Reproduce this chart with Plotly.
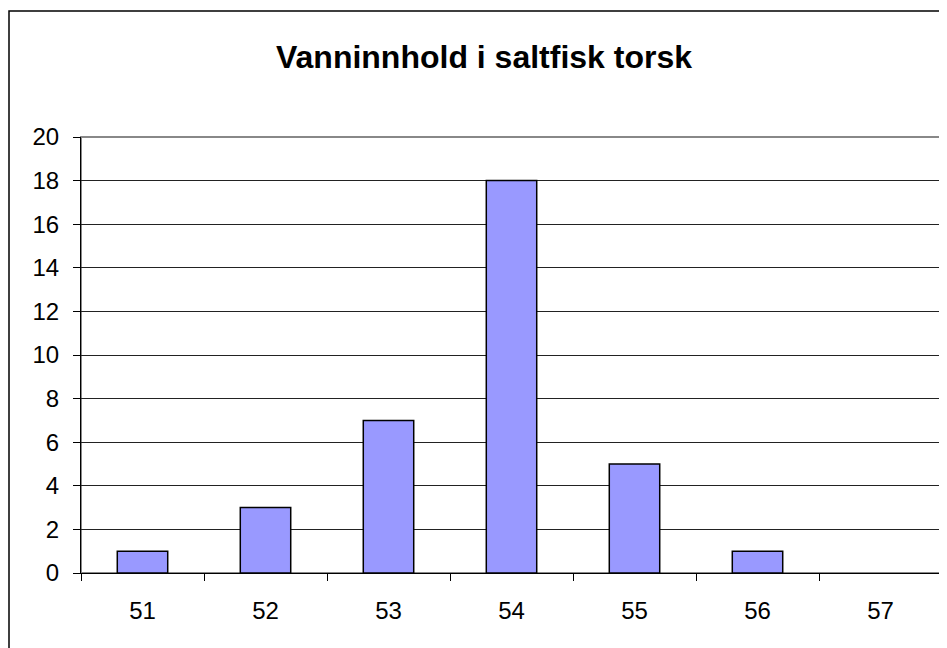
import plotly.graph_objects as go

# data
categories = ['51', '52', '53', '54', '55', '56', '57']
counts = [1, 3, 7, 18, 5, 1, 0]
y_ticks = [0, 2, 4, 6, 8, 10, 12, 14, 16, 18, 20]

# page body has an 8px margin, so the figure is laid out in shifted coords
W, H = 939, 640
L, R, T, B = 73, 5, 129, 75
pw, ph = W - L - R, H - T - B

fig = go.Figure()
fig.add_trace(go.Bar(x=categories, y=counts,
                     marker=dict(color='#9999FF',
                                 line=dict(color='black', width=[1.5 if v else 0 for v in counts])),
                     showlegend=False))

fig.update_layout(
    width=W, height=H,
    margin=dict(l=L, r=R, t=T, b=B, pad=0),
    paper_bgcolor='white', plot_bgcolor='white',
    font=dict(family='Arial, Liberation Sans, sans-serif', color='black', size=24),
    bargap=0.59,
    title=dict(text='<b>Vanninnhold i saltfisk torsk</b>', font=dict(size=32),
               x=(476 - L) / pw, xref='paper', xanchor='center',
               y=1 - 49 / H, yref='container', yanchor='middle'),
)

fig.update_xaxes(type='category', tickson='boundaries', ticks='outside', ticklen=7,
                 tickcolor='black', showline=True, linecolor='black', linewidth=1,
                 showgrid=False, ticklabelstandoff=16, fixedrange=True)
fig.update_yaxes(range=[0, 20], tickvals=y_ticks, ticks='outside', ticklen=7,
                 tickcolor='black', showline=True, linecolor='black', linewidth=1,
                 showgrid=True, gridcolor='#222222', gridwidth=1, zeroline=False,
                 ticklabelstandoff=9, fixedrange=True)

# plot area border (gray, top/right) and outer chart border
fig.add_shape(type='rect', xref='paper', yref='paper', x0=0, x1=1, y0=0, y1=1,
              line=dict(color='#888888', width=2), layer='below')
fig.add_shape(type='rect', xref='paper', yref='paper',
              x0=(1 - L) / pw, x1=(W + 20 - L) / pw,
              y0=-(B + 20) / ph, y1=1 + (T - 3) / ph,
              line=dict(color='black', width=1.5))

fig.write_html('out.html')
